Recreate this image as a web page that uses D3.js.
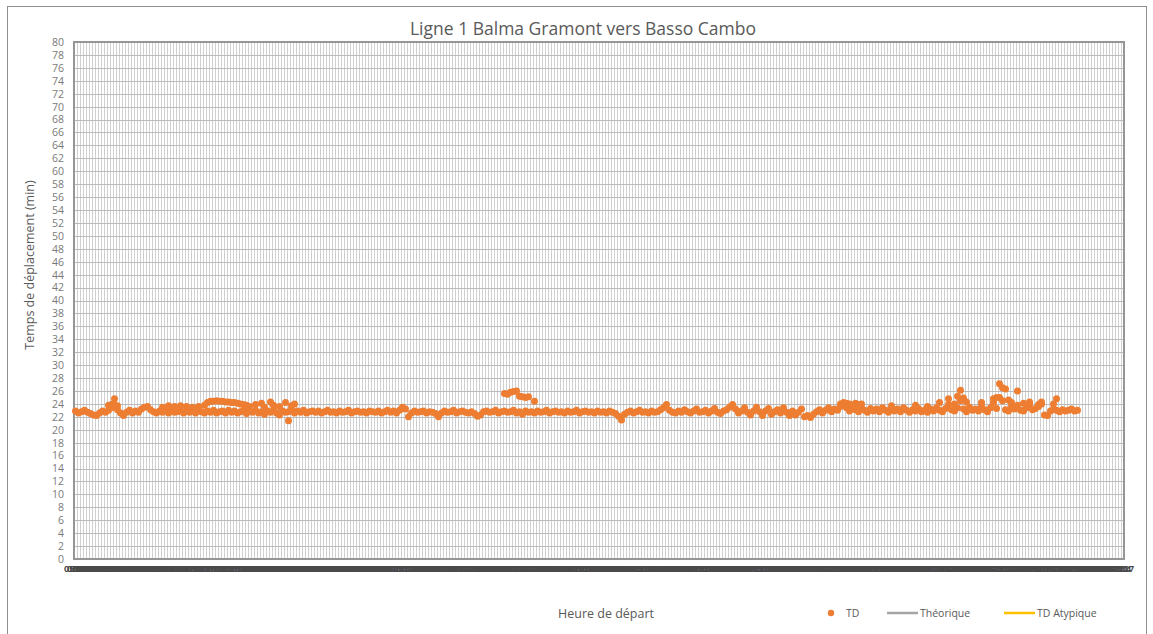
<!DOCTYPE html>
<html><head><meta charset="utf-8">
<script src="https://cdn.jsdelivr.net/npm/d3@7"></script>
<style>body{margin:0;background:#fff}svg{display:block}</style>
</head><body>
<script>
const title = "Ligne 1 Balma Gramont vers Basso Cambo";
const yTitle = "Temps de déplacement (min)";
const xTitle = "Heure de départ";
const yTicks = [0,2,4,6,8,10,12,14,16,18,20,22,24,26,28,30,32,34,36,38,40,42,44,46,48,50,52,54,56,58,60,62,64,66,68,70,72,74,76,78,80];
const departures = [
"05:00 05:03 05:06 05:09 05:12 05:15 05:18 05:21 05:24 05:27 05:30 05:33 05:36 05:39 05:42 05:45 05:48 05:51 05:54 05:57",
"06:00 06:03 06:06 06:09 06:12 06:15 06:18 06:21 06:24 06:27 06:30 06:33 06:36 06:39 06:42 06:45 06:48 06:51 06:54 06:57",
"07:00 07:03 07:06 07:09 07:12 07:15 07:18 07:21 07:24 07:27 07:30 07:33 07:36 07:39 07:42 07:45 07:48 07:51 07:54 07:57",
"08:00 08:03 08:06 08:09 08:12 08:15 08:18 08:21 08:24 08:27 08:30 08:33 08:36 08:39 08:42 08:45 08:48 08:51 08:54 08:57",
"09:00 09:03 09:06 09:09 09:12 09:15 09:18 09:21 09:24 09:27 09:30 09:33 09:36 09:39 09:42 09:45 09:48 09:51 09:54 09:57",
"10:00 10:03 10:06 10:09 10:12 10:15 10:18 10:21 10:24 10:27 10:30 10:33 10:36 10:39 10:42 10:45 10:48 10:51 10:54 10:57",
"11:00 11:03 11:06 11:09 11:12 11:15 11:18 11:21 11:24 11:27 11:30 11:33 11:36 11:39 11:42 11:45 11:48 11:51 11:54 11:57",
"12:00 12:03 12:06 12:09 12:12 12:15 12:18 12:21 12:24 12:27 12:30 12:33 12:36 12:39 12:42 12:45 12:48 12:51 12:54 12:57",
"13:00 13:03 13:06 13:09 13:12 13:15 13:18 13:21 13:24 13:27 13:30 13:33 13:36 13:39 13:42 13:45 13:48 13:51 13:54 13:57",
"14:00 14:03 14:06 14:09 14:12 14:15 14:18 14:21 14:24 14:27 14:30 14:33 14:36 14:39 14:42 14:45 14:48 14:51 14:54 14:57",
"15:00 15:03 15:06 15:09 15:12 15:15 15:18 15:21 15:24 15:27 15:30 15:33 15:36 15:39 15:42 15:45 15:48 15:51 15:54 15:57",
"16:00 16:03 16:06 16:09 16:12 16:15 16:18 16:21 16:24 16:27 16:30 16:33 16:36 16:39 16:42 16:45 16:48 16:51 16:54 16:57",
"17:00 17:03 17:06 17:09 17:12 17:15 17:18 17:21 17:24 17:27 17:30 17:33 17:36 17:39 17:42 17:45 17:48 17:51 17:54 17:57",
"18:00 18:03 18:06 18:09 18:12 18:15 18:18 18:21 18:24 18:27 18:30 18:33 18:36 18:39 18:42 18:45 18:48 18:51 18:54 18:57",
"19:00 19:03 19:06 19:09 19:12 19:15 19:18 19:21 19:24 19:27 19:30 19:33 19:36 19:39 19:42 19:45 19:48 19:51 19:54 19:57",
"20:00 20:03 20:06 20:09 20:12 20:15 20:18 20:21 20:24 20:27 20:30 20:33 20:36 20:39 20:42 20:45 20:48 20:51 20:54 20:57",
"21:00 21:03 21:06 21:09 21:12 21:15 21:18 21:21 21:24 21:27 21:30 21:33 21:36 21:39 21:42 21:45 21:48 21:51 21:54 21:57",
"22:00 22:03 22:06 22:09 22:12 22:15 22:18 22:21 22:24 22:27"
].join(" ").split(" ");

// TD: main travel time per departure (min)
const tdMain = [
22.9,22.6,22.8,23.0,22.7,22.5,22.3,22.2,22.6,22.9,22.7,23.0,23.4,23.8,23.1,22.6,22.2,22.7,23.0,22.6,
22.9,22.7,23.2,23.5,23.6,23.1,22.8,22.6,22.9,22.7,23.0,22.6,22.9,22.7,22.8,23.0,22.6,22.9,22.7,23.0,
22.6,22.9,22.8,22.6,22.9,22.7,23.0,22.6,22.8,22.9,22.6,23.0,22.7,22.9,22.6,22.8,23.0,22.5,22.9,22.7,
23.0,22.6,22.8,22.4,22.9,22.7,23.1,22.6,22.3,22.9,22.7,22.8,23.2,22.6,22.9,22.7,23.0,22.6,22.8,22.9,
22.7,22.9,22.6,22.8,23.0,22.7,22.8,22.6,22.9,22.7,22.8,23.0,22.6,22.8,22.9,22.7,22.8,22.6,22.9,22.8,
22.7,22.9,22.6,22.8,23.0,22.7,22.9,22.6,23.0,23.3,23.2,22.0,22.6,22.9,22.7,22.8,22.9,22.6,22.8,22.7,
22.5,22.0,22.6,22.9,22.7,22.8,23.0,22.6,22.8,22.9,22.7,22.6,22.8,22.5,22.1,22.3,22.8,22.9,22.7,22.8,
23.0,22.6,22.8,22.9,22.7,22.8,23.0,22.6,22.8,22.4,22.9,22.7,22.8,22.6,22.9,22.7,22.8,23.0,22.6,22.8,
22.9,22.7,22.8,22.6,22.9,22.7,22.8,23.0,22.6,22.8,22.9,22.7,22.8,22.6,22.9,22.7,22.8,22.6,22.9,22.7,
22.5,22.1,21.5,22.4,22.7,22.9,22.6,22.8,23.0,22.7,22.8,22.6,22.9,22.7,22.8,23.1,23.4,23.9,23.0,22.7,
22.6,22.9,22.7,23.1,22.8,22.6,22.9,23.2,22.7,22.8,23.0,22.6,22.9,23.3,22.7,22.5,22.9,23.1,23.5,23.9,
23.2,22.6,22.9,23.4,22.7,22.3,22.9,23.5,22.8,22.2,22.9,23.3,22.4,22.8,23.1,22.6,23.4,22.7,22.2,22.9,
22.3,22.7,23.2,22.0,22.2,21.9,22.4,22.8,23.1,22.6,23.0,23.4,22.8,23.2,23.0,23.6,24.0,23.4,22.9,23.5,
23.1,22.8,23.4,23.0,22.7,23.3,22.9,23.2,22.8,23.4,23.0,22.7,23.3,22.9,23.2,22.8,23.4,23.0,22.7,23.1,
22.9,23.3,22.8,23.0,22.7,23.2,22.9,23.4,23.0,22.8,23.3,23.9,23.1,22.9,23.4,24.5,23.2,22.8,23.5,23.0,
23.2,22.9,23.6,23.1,22.8,23.4,24.2,23.3,25.0,24.5,23.1,22.9,23.6,23.2,23.8,23.0,22.9,23.4,23.9,23.1,
23.3,23.6,24.0,22.3,22.2,22.9,23.2,23.0,22.8,23.1,22.9,23.0,23.2,22.9,23.0
];
// TD: additional trips at the same departure [departure index, minutes]
const tdExtra = [
[11,23.8],[12,23.9],[13,24.8],[14,23.7],
[29,23.5],[31,23.7],[33,23.6],[35,23.7],[37,23.6],[39,23.5],[41,23.6],[43,23.8],
[44,24.2],[45,24.4],[46,24.4],[47,24.5],[48,24.4],[49,24.4],[50,24.3],[51,24.3],[52,24.2],[53,24.2],[54,24.1],[55,24.0],[56,23.9],[57,23.8],
[58,23.6],[60,23.9],[62,24.1],[63,23.5],[65,24.3],[66,23.8],[68,23.6],[70,24.2],[72,23.7],[73,24.0],[71,21.4],
[109,23.5],
[143,25.6],[144,25.5],[145,25.8],[146,25.9],[147,26.0],[148,25.2],[149,25.1],[150,25.0],[151,25.1],[153,24.4],
[255,24.0],[256,24.2],[257,24.1],[258,24.0],[259,23.8],[260,24.1],[261,23.9],[262,24.0],
[272,23.7],[280,23.8],[284,23.6],
[288,24.2],[291,24.8],[293,24.0],[294,25.2],[295,26.1],[296,24.9],[297,24.3],[302,24.2],[306,24.8],[307,25.0],
[308,27.1],[309,26.5],[310,26.3],[311,24.6],[312,24.2],[314,26.0],[316,24.1],[318,24.3],
[321,23.9],[322,24.3],[326,24.0],[327,24.8]
];
const legendItems = [
  {name:"TD", type:"dot", color:"#ED7D31"},
  {name:"Théorique", type:"line", color:"#A5A5A5"},
  {name:"TD Atypique", type:"line", color:"#FFC000"}
];

const W = 1153, H = 634;
const M = {left:74, right:1124, top:42, bottom:559};
const FONT = "'Open Sans', 'Liberation Sans', sans-serif";

const svg = d3.select("body").append("svg").attr("width", W).attr("height", H);
svg.append("rect").attr("x",7.5).attr("y",6.5).attr("width",1139).attr("height",640)
  .attr("fill","#fff").attr("stroke","#8f8f8f").attr("stroke-width",1);

const x = d3.scaleBand().domain(d3.range(departures.length)).range([M.left, M.right]);
const y = d3.scaleLinear().domain([0, 80]).range([M.bottom, M.top]);

// vertical gridlines (between categories)
svg.append("g").selectAll("line").data(d3.range(1, departures.length)).join("line")
  .attr("x1", d => Math.round(x(d)) + 0.5).attr("x2", d => Math.round(x(d)) + 0.5)
  .attr("y1", M.top).attr("y2", M.bottom)
  .attr("stroke", "#d0d0d0").attr("stroke-width", 1);

// horizontal gridlines
svg.append("g").selectAll("line").data(yTicks).join("line")
  .attr("x1", M.left).attr("x2", M.right)
  .attr("y1", d => Math.round(y(d)) + 0.5).attr("y2", d => Math.round(y(d)) + 0.5)
  .attr("stroke", "#bababa").attr("stroke-width", 1);

// plot border
svg.append("rect").attr("x", M.left).attr("y", M.top)
  .attr("width", M.right - M.left).attr("height", M.bottom - M.top)
  .attr("fill", "none").attr("stroke", "#969696").attr("stroke-width", 2);

// y axis labels
const yAxis = d3.axisLeft(y).tickValues(yTicks).tickSize(0).tickPadding(10);
const gy = svg.append("g").attr("transform", `translate(${M.left},0)`).call(yAxis);
gy.select(".domain").remove();
gy.selectAll("text").attr("font-family", FONT).attr("font-size", 10.5).attr("fill", "#7a7a7a");

// x axis labels (dense categories)
const xAxis = d3.axisBottom(x).tickFormat(i => departures[i]).tickSize(0).tickPadding(7);
const gx = svg.append("g").attr("transform", `translate(0,${M.bottom})`).call(xAxis);
gx.select(".domain").remove();
gx.selectAll("text").attr("font-family", FONT).attr("font-size", 9).attr("font-weight", "bold").attr("fill", "#4a4a4a");

// points
const pts = tdMain.map((v, i) => [i, v]).concat(tdExtra);
svg.append("g").selectAll("circle").data(pts).join("circle")
  .attr("cx", d => x(d[0]) + x.bandwidth() / 2)
  .attr("cy", d => y(d[1]))
  .attr("r", 3.5)
  .attr("fill", "#ED7D31");

// title
svg.append("text").attr("x", 583).attr("y", 35).attr("text-anchor", "middle")
  .attr("font-family", FONT).attr("font-size", 17.5).attr("fill", "#595959").text(title);

// axis titles
svg.append("text").attr("transform", "translate(34,265) rotate(-90)").attr("text-anchor", "middle")
  .attr("font-family", FONT).attr("font-size", 12.5).attr("fill", "#595959").text(yTitle);
svg.append("text").attr("x", 606).attr("y", 618).attr("text-anchor", "middle")
  .attr("font-family", FONT).attr("font-size", 12.5).attr("fill", "#595959").text(xTitle);

// legend
const legendX = [831, 887, 1004];
const lg = svg.append("g");
legendItems.forEach((it, k) => {
  const g = lg.append("g").attr("transform", `translate(${legendX[k]},613)`);
  if (it.type === "dot") {
    g.append("circle").attr("cx", 0).attr("cy", 0).attr("r", 3.2).attr("fill", it.color);
    g.append("text").attr("x", 15).attr("y", 0).attr("dy", "0.35em")
      .attr("font-family", FONT).attr("font-size", 10.5).attr("fill", "#595959").text(it.name);
  } else {
    g.append("line").attr("x1", 0).attr("x2", 31).attr("y1", 0).attr("y2", 0)
      .attr("stroke", it.color).attr("stroke-width", 2.5);
    g.append("text").attr("x", 33).attr("y", 0).attr("dy", "0.35em")
      .attr("font-family", FONT).attr("font-size", 10.5).attr("fill", "#595959").text(it.name);
  }
});
</script>
</body></html>
